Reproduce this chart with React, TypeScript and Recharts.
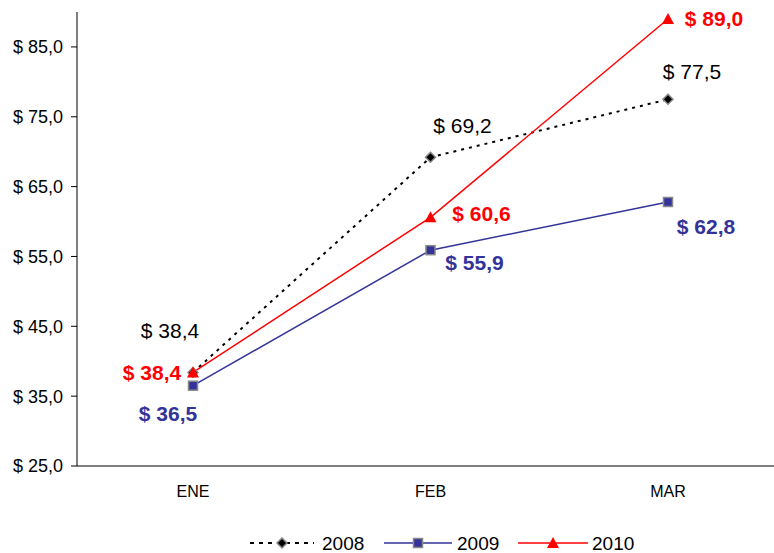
import { LineChart, Line, XAxis, YAxis, LabelList } from 'recharts';

const meses = ['ENE', 'FEB', 'MAR'];
const v2008 = [38.4, 69.2, 77.5];
const v2009 = [36.5, 55.9, 62.8];
const v2010 = [38.4, 60.6, 89.0];
const ticksY = [25, 35, 45, 55, 65, 75, 85];

const datos = meses.map((m, i) => ({ mes: m, a2008: v2008[i], a2009: v2009[i], a2010: v2010[i] }));

const NAVY = '#333399';
const ROJO = '#ff0000';

const fmt = (v: number) => `$ ${v.toFixed(1).replace('.', ',')}`;

// desplazamiento de cada etiqueta respecto a su punto
const off2008 = [[-23, -42], [32, -32], [24, -28]];
const off2009 = [[-25, 28], [44, 12], [38, 25]];
const off2010 = [[-41, 0], [51, -4], [46, 0]];

const etiqueta = (offs: number[][], color: string, bold: boolean) => (p: any) => {
  const [dx, dy] = offs[p.index];
  return (
    <text x={p.x + dx} y={p.y + dy} fill={color} fontSize={21} fontWeight={bold ? 'bold' : 'normal'}
      textAnchor="middle" dominantBaseline="central" fontFamily="Liberation Sans, Arial, sans-serif">
      {fmt(Number(p.value))}
    </text>
  );
};

const Rombo = ({ cx, cy }: any) => (
  <path d={`M${cx},${cy - 5} L${cx + 5},${cy} L${cx},${cy + 5} L${cx - 5},${cy} Z`} fill="#000" stroke="#888" strokeWidth={1.5} />
);
const Cuadro = ({ cx, cy }: any) => (
  <rect x={cx - 4.5} y={cy - 4.5} width={9} height={9} fill={NAVY} stroke="#888" strokeWidth={1.5} />
);
const Triangulo = ({ cx, cy }: any) => (
  <path d={`M${cx},${cy - 6} L${cx + 6},${cy + 5} L${cx - 6},${cy + 5} Z`} fill={ROJO} />
);

const Leyenda = () => (
  <svg width={774} height={24} style={{ position: 'absolute', left: 0, top: 531 }}>
    <g fontFamily="Liberation Sans, Arial, sans-serif" fontSize={19} fill="#000">
      <line x1={250} y1={12} x2={314} y2={12} stroke="#000" strokeWidth={2} strokeDasharray="4 5" />
      <Rombo cx={282} cy={12} />
      <text x={322} y={12} dominantBaseline="central">2008</text>
      <line x1={384} y1={12} x2={452} y2={12} stroke={NAVY} strokeWidth={1.5} />
      <Cuadro cx={418} cy={12} />
      <text x={457} y={12} dominantBaseline="central">2009</text>
      <line x1={518} y1={12} x2={588} y2={12} stroke={ROJO} strokeWidth={1.5} />
      <Triangulo cx={553} cy={12} />
      <text x={592} y={12} dominantBaseline="central">2010</text>
    </g>
  </svg>
);

export default function App() {
  return (
    <div style={{ position: 'absolute', left: 0, top: 0, width: 774, height: 553, background: '#fff' }}>
      <LineChart width={774} height={553} data={datos} margin={{ top: 12, right: 0, left: 0, bottom: 57 }}>
        <XAxis dataKey="mes" padding={{ left: 116, right: 106 }} axisLine={{ stroke: '#000' }} tickLine={false}
          tick={{ fill: '#000', fontSize: 16, fontFamily: 'Liberation Sans, Arial, sans-serif' }} tickMargin={14} />
        <YAxis domain={[25, 90]} ticks={ticksY} width={77} tickFormatter={fmt} axisLine={{ stroke: '#000' }}
          tickLine={{ stroke: '#000' }} tickSize={6} tickMargin={8} interval={0}
          tick={{ fill: '#000', fontSize: 18, fontFamily: 'Liberation Sans, Arial, sans-serif' }} />
        <Line dataKey="a2008" stroke="#000" strokeWidth={2} strokeDasharray="3 5" dot={<Rombo />} activeDot={false}
          isAnimationActive={false}>
          <LabelList dataKey="a2008" content={etiqueta(off2008, '#000', false)} />
        </Line>
        <Line dataKey="a2009" stroke={NAVY} strokeWidth={1.5} dot={<Cuadro />} activeDot={false} isAnimationActive={false}>
          <LabelList dataKey="a2009" content={etiqueta(off2009, NAVY, true)} />
        </Line>
        <Line dataKey="a2010" stroke={ROJO} strokeWidth={1.5} dot={<Triangulo />} activeDot={false} isAnimationActive={false}>
          <LabelList dataKey="a2010" content={etiqueta(off2010, ROJO, true)} />
        </Line>
      </LineChart>
      <Leyenda />
    </div>
  );
}
